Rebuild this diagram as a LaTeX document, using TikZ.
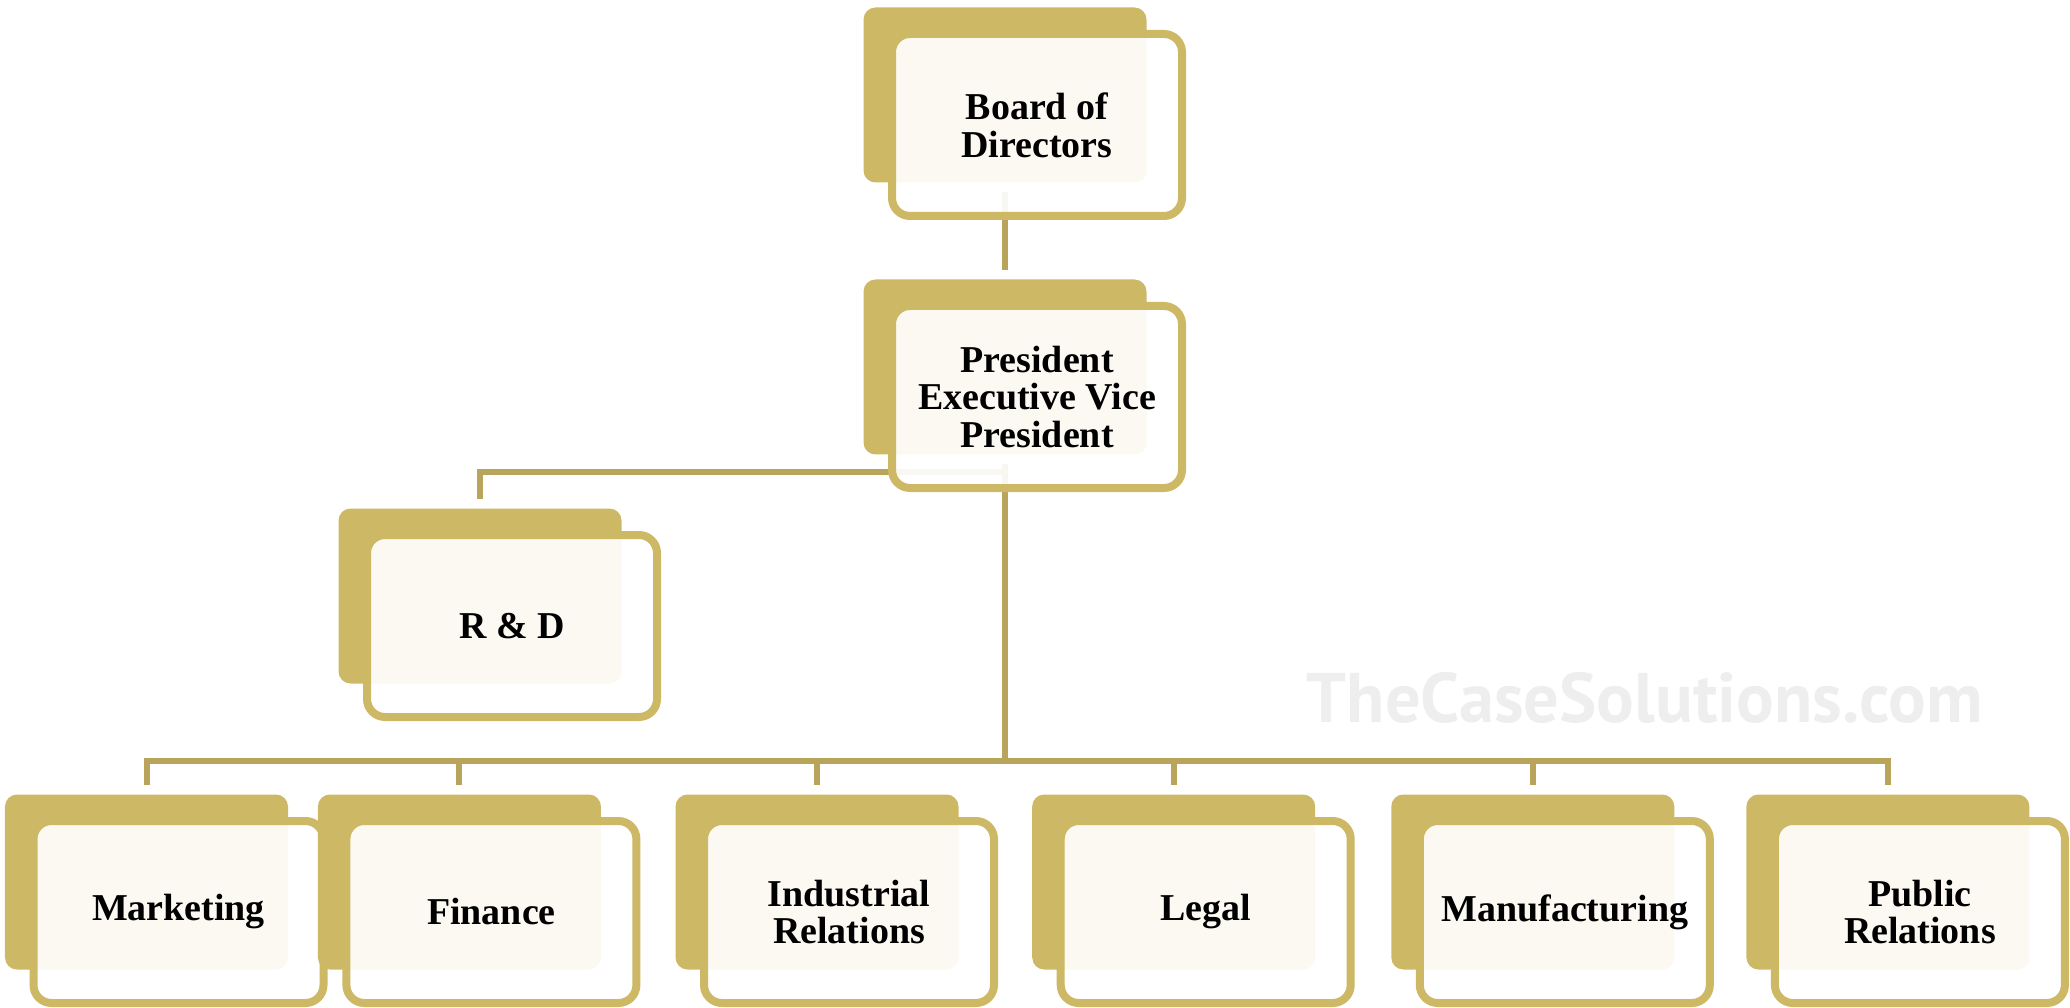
\documentclass[tikz,border=0pt]{standalone}
\usepackage{fontspec}
\setmainfont{Liberation Serif}
\newfontfamily\wmfont{PT Sans}
\usetikzlibrary{positioning}
\pgfdeclarelayer{bg}
\pgfsetlayers{bg,main}

\definecolor{gold}{RGB}{205,184,101}
\definecolor{linegold}{RGB}{185,164,92}
\definecolor{wmgray}{RGB}{238,238,238}

\tikzset{
  backbox/.style={fill=gold, rounded corners=1.2mm, minimum width=2.83cm,
    minimum height=1.75cm, inner sep=0pt},
  frontbox/.style={draw=gold, line width=0.8mm, fill=white, fill opacity=0.92,
    text opacity=1, rounded corners=1.8mm, minimum width=2.90cm,
    minimum height=1.82cm, inner sep=0pt, align=center,
    font=\fontsize{10.8}{10.8}\selectfont\bfseries},
  conn/.style={draw=linegold, line width=0.6mm, shorten <=0.9mm, shorten >=0.9mm},
  wm/.style={text=wmgray, font=\wmfont\fontsize{20}{20}\selectfont\bfseries, anchor=base}
}

% back block + front frame with text
\newcommand{\orgunit}[3]{
  \node[backbox] (#1-back) at (#2) {};
  \node[frontbox, xshift=0.32cm, yshift=-0.30cm] (#1) at (#1-back) {#3};
}

\begin{document}
\begin{tikzpicture}
  \useasboundingbox (0,0) rectangle (20.70,-10.08);

  \node[wm] (wmark) at (16.45,-7.22) {TheCaseSolutions.com};

  \orgunit{board}{10.05,-0.95}{Board of\\Directors}
  \orgunit{pres}{10.05,-3.67}{President\\Executive Vice\\President}
  \orgunit{rd}{4.80,-5.96}{R \& D}
  \foreach \nm/\x/\txt in {mkt/1.465/Marketing, fin/4.594/Finance,
      ind/8.17/{Industrial\\Relations}, legal/11.737/Legal,
      mfg/15.328/Manufacturing, pr/18.879/{Public\\Relations}}{
    \orgunit{\nm}{\x,-8.82}{\txt}
  }

  \begin{pgfonlayer}{bg}
    \draw[conn] (board-back.south) -- (pres-back.north);
    \coordinate (rdfork) at ([yshift=-0.17cm]pres-back.south);
    \draw[conn, shorten <=0pt] (rdfork) -| (rd-back.north);
    \coordinate (bus) at ([yshift=-3.055cm]pres-back.south);
    \draw[conn, shorten >=0pt] (pres-back.south) -- (bus);
    \foreach \nm in {mkt,fin,ind,legal,mfg,pr}
      \draw[conn, shorten <=0pt] (bus) -| (\nm-back.north);
  \end{pgfonlayer}
\end{tikzpicture}
\end{document}
